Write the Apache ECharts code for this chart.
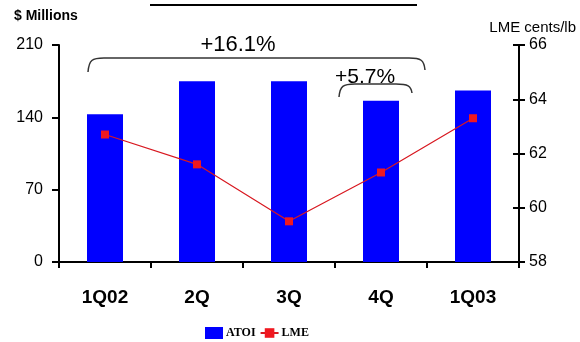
<!DOCTYPE html>
<html>
<head>
<meta charset="utf-8">
<script src="https://cdn.jsdelivr.net/npm/echarts@6/dist/echarts.min.js"></script>
<style>html,body{margin:0;padding:0;background:#fff}#c{width:580px;height:342px}</style>
</head>
<body>
<div id="c"></div>
<script>
const categories = ['1Q02', '2Q', '3Q', '4Q', '1Q03'];
const atoi = [143, 175, 175, 156, 166];
const lme = [62.7, 61.6, 59.5, 61.3, 63.3];
const leftTicks = [0, 70, 140, 210];
const rightTicks = [58, 60, 62, 64, 66];

const chart = echarts.init(document.getElementById('c'), null, {renderer: 'canvas'});
const axisCol = '#000';
const braceStyle = {stroke: '#333', lineWidth: 1.5, fill: null};
function brace(x1, y1, x2, y2, top) {
  return [
    {type: 'bezierCurve', shape: {x1: x1, y1: y1, cpx1: x1 + 1, cpy1: top + 2, cpx2: x1 + 4, cpy2: top, x2: x1 + 16, y2: top}, style: braceStyle},
    {type: 'line', shape: {x1: x1 + 16, y1: top, x2: x2 - 16, y2: top}, style: braceStyle},
    {type: 'bezierCurve', shape: {x1: x2 - 16, y1: top, cpx1: x2 - 4, cpy1: top, cpx2: x2 - 1, cpy2: top + 2, x2: x2, y2: y2}, style: braceStyle}
  ];
}
chart.setOption({
  animation: false,
  backgroundColor: '#fff',
  grid: {left: 59, right: 61, top: 45, bottom: 80},
  legend: {
    top: 322, left: 200, itemGap: 4, itemWidth: 18, itemHeight: 12,
    textStyle: {fontFamily: 'Liberation Serif', fontWeight: 'bold', fontSize: 12, color: '#000', padding: [0, 0, 0, -2]},
    data: [{name: 'ATOI', icon: 'rect'}, {name: 'LME'}]
  },
  xAxis: {
    type: 'category', data: categories,
    axisLine: {lineStyle: {color: axisCol, width: 2}},
    axisTick: {show: true, length: 6, lineStyle: {color: axisCol, width: 2}},
    axisLabel: {fontFamily: 'Liberation Sans', fontWeight: 'bold', fontSize: 19, color: '#000', margin: 26}
  },
  yAxis: [
    {
      type: 'value', min: leftTicks[0], max: leftTicks[leftTicks.length - 1], interval: 70,
      position: 'left',
      axisLine: {show: true, lineStyle: {color: axisCol, width: 2}},
      axisTick: {show: true, length: 7, lineStyle: {color: axisCol, width: 2}},
      splitLine: {show: false},
      axisLabel: {fontFamily: 'Liberation Sans', fontSize: 16, color: '#000', margin: 16}
    },
    {
      type: 'value', min: rightTicks[0], max: rightTicks[rightTicks.length - 1], interval: 2,
      position: 'right',
      axisLine: {show: true, lineStyle: {color: axisCol, width: 2}},
      axisTick: {show: true, length: 6, lineStyle: {color: axisCol, width: 2}},
      splitLine: {show: false},
      axisLabel: {fontFamily: 'Liberation Sans', fontSize: 16, color: '#000', margin: 10}
    },
    {
      type: 'value', min: rightTicks[0], max: rightTicks[rightTicks.length - 1], interval: 2,
      position: 'right',
      axisLine: {show: false},
      axisTick: {show: true, inside: true, length: 6, lineStyle: {color: axisCol, width: 2}},
      splitLine: {show: false},
      axisLabel: {show: false}
    }
  ],
  series: [
    {
      name: 'ATOI', type: 'bar', data: atoi, yAxisIndex: 0, barWidth: 36,
      itemStyle: {color: '#0000FF'}
    },
    {
      name: 'LME', type: 'line', data: lme, yAxisIndex: 1,
      symbol: 'rect', symbolSize: 8,
      lineStyle: {color: '#D81820', width: 1.2},
      itemStyle: {color: '#F01820'}
    }
  ],
  graphic: [
    {type: 'line', shape: {x1: 150, y1: 5, x2: 417, y2: 5}, style: {stroke: '#000', lineWidth: 2}},
    {type: 'text', x: 14, y: 9, style: {text: '$ Millions', font: 'bold 14px "Liberation Sans"', fill: '#000'}},
    {type: 'text', x: 576, y: 20, style: {text: 'LME cents/lb', font: '15px "Liberation Sans"', fill: '#000', align: 'right'}},
    {type: 'text', x: 238, y: 45, style: {text: '+16.1%', font: '22px "Liberation Sans"', fill: '#000', align: 'center', verticalAlign: 'middle'}},
    {type: 'text', x: 365, y: 77, style: {text: '+5.7%', font: '21px "Liberation Sans"', fill: '#000', align: 'center', verticalAlign: 'middle'}}
  ].concat(brace(88, 72, 425, 70, 58), brace(339, 97, 412, 93, 84))
});
</script>
</body>
</html>
